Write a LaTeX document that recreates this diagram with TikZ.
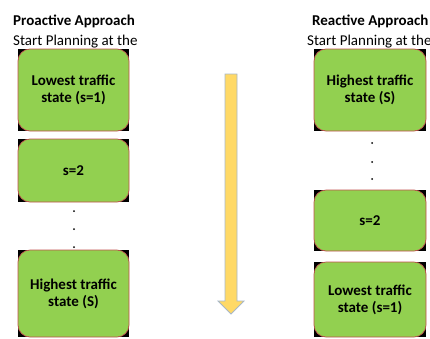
\documentclass[tikz,border=0pt]{standalone}
\usepackage{fontspec}
\setmainfont{Carlito}
\usetikzlibrary{backgrounds}
\definecolor{boxgreen}{HTML}{92D050}
\definecolor{boxedge}{HTML}{C0504D}
\definecolor{arrowfill}{HTML}{FFD966}
\definecolor{arrowedge}{HTML}{A8B7C7}
\tikzset{
  statebox/.style={draw=boxedge, line width=0.7pt, fill=boxgreen, rounded corners=12pt,
    inner sep=0pt, minimum width=111pt, align=center, font=\fontsize{15}{17}\selectfont\bfseries},
  titletext/.style={anchor=base west, inner sep=0pt, font=\fontsize{15}{17}\selectfont\bfseries},
  subtext/.style={anchor=base west, inner sep=0pt, font=\fontsize{15}{17}\selectfont},
  dotmark/.style={fill=black, circle, inner sep=0pt, minimum size=2pt}
}
\begin{document}
\begin{tikzpicture}[x=1pt,y=-1pt]
\useasboundingbox (0,0) rectangle (430,338);
% titles
\node[titletext] (lt) at (13,25) {Proactive Approach};
\node[subtext] (ls) at (13,45) {Start Planning at the};
\node[titletext] (rt) at (312,25) {Reactive Approach};
\node[subtext] (rs) at (307,45) {Start Planning at the};
% left boxes
\node[statebox, minimum height=82pt] (l1) at (73.5,90) {Lowest traffic\\state (s=1)};
\node[statebox, minimum height=63pt] (l2) at (73.5,170.5) {s=2};
\node[statebox, minimum height=87pt] (l3) at (73.5,293.5) {Highest traffic\\state (S)};
% right boxes
\node[statebox, minimum height=82pt, minimum width=112pt] (r1) at (370,90) {Highest traffic\\state (S)};
\node[statebox, minimum height=61pt, minimum width=112pt] (r2) at (370,220.5) {s=2};
\node[statebox, minimum height=75pt, minimum width=112pt] (r3) at (370,299.5) {Lowest traffic\\state (s=1)};
\begin{scope}[on background layer]
\foreach \b in {l1,l2,l3,r1,r2,r3}{
  \fill[black] (\b.south west) rectangle (\b.north east);
}
\end{scope}
% dots
\node[dotmark] (ld1) at (74,211) {};
\node[dotmark] (ld2) at (74,229) {};
\node[dotmark] (ld3) at (74,247) {};
\node[dotmark] (rd1) at (372,143) {};
\node[dotmark] (rd2) at (372,162) {};
\node[dotmark] (rd3) at (372,179) {};
% arrow
\draw[fill=arrowfill, draw=arrowedge, line width=0.8pt, line join=miter]
  (225,74) -- (237,74) -- (237,301) -- (244,301) -- (231,314) -- (218,301) -- (225,301) -- cycle;
\end{tikzpicture}
\end{document}
